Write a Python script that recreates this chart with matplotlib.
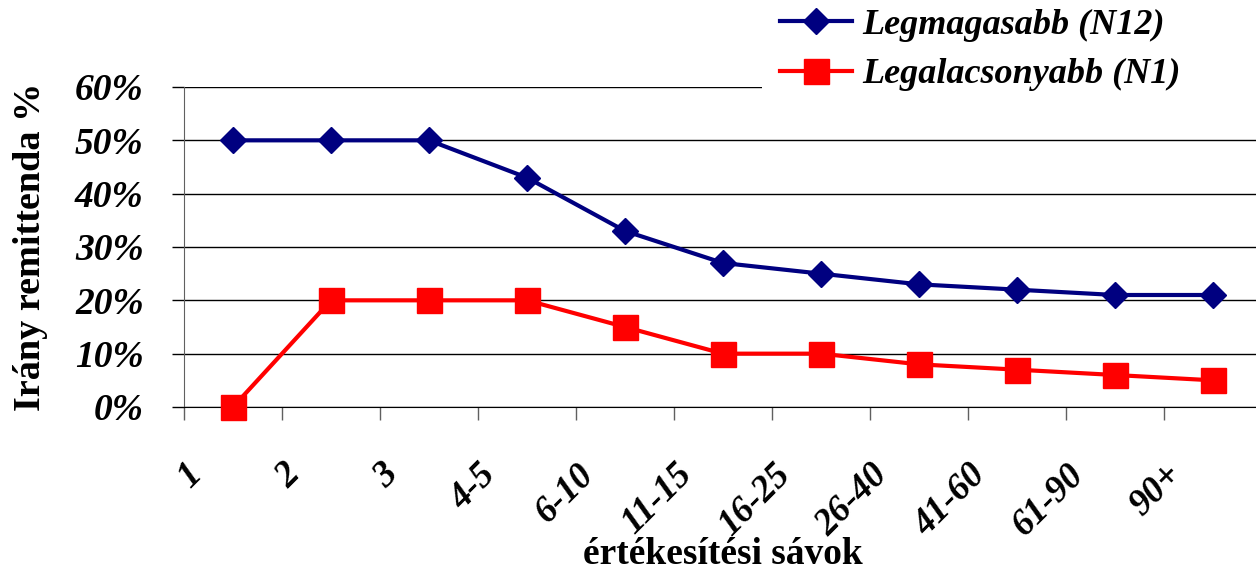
import matplotlib
matplotlib.use('Agg')
import matplotlib.pyplot as plt
import matplotlib.transforms as mtransforms
from matplotlib.patches import Rectangle
import numpy as np

# chart data
categories = ['1', '2', '3', '4-5', '6-10', '11-15', '16-25', '26-40', '41-60', '61-90', '90+']
highest = [50, 50, 50, 43, 33, 27, 25, 23, 22, 21, 21]
lowest = [0, 20, 20, 20, 15, 10, 10, 8, 7, 6, 5]
yticks = [0, 10, 20, 30, 40, 50, 60]
series_labels = ['Legmagasabb (N12)', 'Legalacsonyabb (N1)']

plt.rcParams['font.family'] = ['Liberation Serif', 'DejaVu Serif']

W, H = 1256, 570
fig = plt.figure(figsize=(W / 100, H / 100), dpi=100)
# plot area: x from 184 to 1262 px (runs past the right edge), y 87..407 px
ax = fig.add_axes([184 / W, 1 - 407 / H, (1262 - 184) / W, (407 - 87) / H])

x = np.arange(len(categories))
ax.plot(x, np.array(highest) / 100, color='#000080', lw=3, marker='D', ms=13,
        label=series_labels[0], clip_on=False, zorder=5)
ax.plot(x, np.array(lowest) / 100, color='#ff0000', lw=3, marker='s', ms=18,
        label=series_labels[1], clip_on=False, zorder=5)

ax.set_xlim(-0.5, len(categories) - 0.5)
ax.set_ylim(0, 0.6)

# y axis
ax.set_yticks(np.array(yticks) / 100)
ax.set_yticklabels([f'{v}%' for v in yticks])
ax.tick_params(axis='y', direction='out', length=9, width=1, color='black', pad=20,
               labelsize=27)
for lab in ax.get_yticklabels():
    lab.set_fontweight('bold')
    lab.set_fontstyle('italic')
ax.yaxis.grid(True, color='black', lw=1)
ax.set_axisbelow(True)

# x axis: ticks on boundaries, labels on centers
ax.set_xticks(x)
ax.set_xticklabels(categories, rotation=45, ha='right', va='top')
ax.set_xticks(np.arange(-0.5, len(categories)), minor=True)
ax.tick_params(axis='x', which='major', length=0, pad=36, labelsize=26.5)
ax.tick_params(axis='x', which='minor', direction='out', length=9, width=1, color='#606060')
shift = mtransforms.ScaledTranslation(-24 / 100, 0, fig.dpi_scale_trans)
for lab in ax.get_xticklabels():
    lab.set_fontweight('bold')
    lab.set_fontstyle('italic')
    lab.set_transform(lab.get_transform() + shift)

for s in ['top', 'right']:
    ax.spines[s].set_visible(False)
ax.spines['left'].set_color('#606060')
ax.spines['bottom'].set_color('black')

fig.text(31 / W, 1 - 247 / H, 'Irány remittenda %', fontsize=27.5, fontweight='bold',
         rotation=90, ha='center', va='center')

fig.text((184 + 1262) / 2 / W, 1 - 555 / H, 'értékesítési sávok', fontsize=27,
         fontweight='bold', ha='center', va='center')

# white legend area hides the top gridline on the right
ax.add_patch(Rectangle((762 / W, 1 - 92 / H), 1, 92 / H, transform=fig.transFigure,
                       facecolor='white', edgecolor='none', clip_on=False, zorder=3))

leg = ax.legend(loc='upper left', bbox_to_anchor=(776 / W, 1 - 5 / H), bbox_transform=fig.transFigure,
                frameon=False,
                prop={'family': 'Liberation Serif', 'weight': 'bold', 'style': 'italic', 'size': 26},
                handlelength=2.0, handletextpad=0.3, labelspacing=0.45, borderpad=0.1,
                borderaxespad=0)
leg.set_zorder(10)

fig.savefig('out.png', dpi=100, facecolor='white')
